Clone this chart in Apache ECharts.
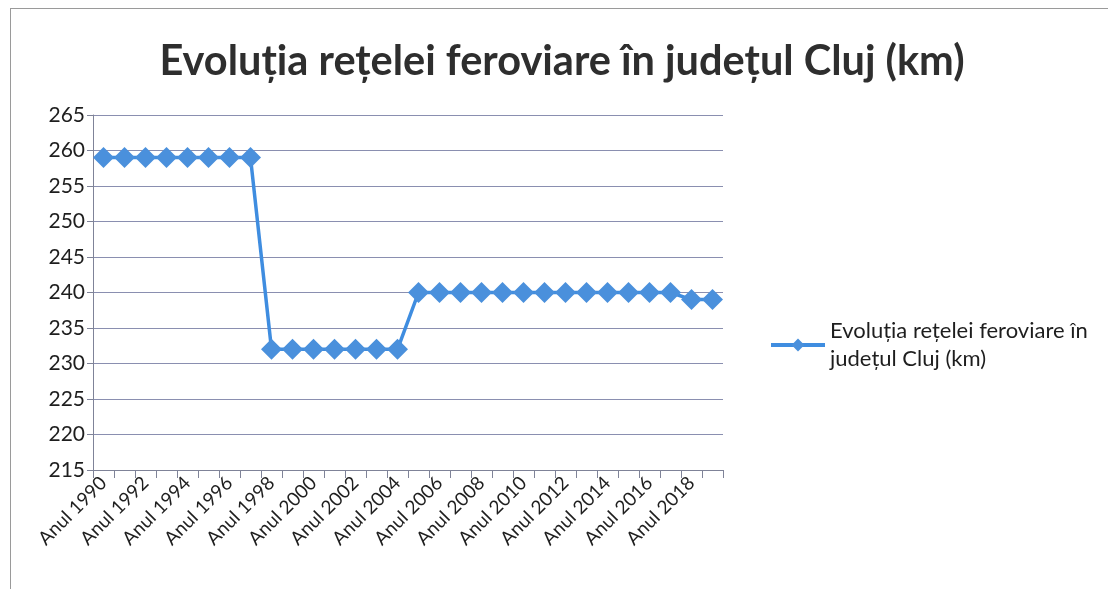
<!DOCTYPE html>
<html>
<head>
<meta charset="utf-8">
<script src="https://cdn.jsdelivr.net/npm/echarts@6/dist/echarts.min.js"></script>
<style>
html,body{margin:0;padding:0;background:#fff;}
#frame{position:absolute;left:10px;top:8px;width:1120px;height:600px;border:1px solid #9a9a9a;}
#chart{position:absolute;left:0;top:0;width:1108px;height:589px;}
</style>
</head>
<body>
<div id="frame"></div>
<div id="chart"></div>
<script>
const categories = ["Anul 1990","Anul 1991","Anul 1992","Anul 1993","Anul 1994","Anul 1995","Anul 1996","Anul 1997","Anul 1998","Anul 1999","Anul 2000","Anul 2001","Anul 2002","Anul 2003","Anul 2004","Anul 2005","Anul 2006","Anul 2007","Anul 2008","Anul 2009","Anul 2010","Anul 2011","Anul 2012","Anul 2013","Anul 2014","Anul 2015","Anul 2016","Anul 2017","Anul 2018","Anul 2019"];
const values = [259,259,259,259,259,259,259,259,232,232,232,232,232,232,232,240,240,240,240,240,240,240,240,240,240,240,240,240,239,239];
const seriesName = "Evoluția rețelei feroviare în județul Cluj (km)";
const titleText = "Evoluția rețelei feroviare în județul Cluj (km)";

const chart = echarts.init(document.getElementById('chart'), null, {renderer:'canvas'});
const font = "Lato, 'Open Sans', sans-serif";
chart.setOption({
  animation:false,
  title:{text:titleText,left:557,top:36,textAlign:'center',
    textStyle:{fontFamily:font,fontSize:41.5,fontWeight:'bold',color:'#2e2e2e'}},
  legend:{orient:'vertical',left:764,top:312,itemWidth:54,itemHeight:16,itemGap:0,
    lineStyle:{width:4},
    formatter:()=> "Evoluția rețelei feroviare în\njudețul Cluj (km)",
    textStyle:{fontFamily:font,fontSize:22,color:'#1e1e1e',lineHeight:28}},
  grid:{left:93,top:115,width:630,height:355,containLabel:false},
  xAxis:{type:'category',data:categories,boundaryGap:true,
    axisLine:{lineStyle:{color:'#7f8398',width:1}},
    axisTick:{show:true,length:8,lineStyle:{color:'#7f8398'},interval:0},
    axisLabel:{interval:1,rotate:45,fontFamily:font,fontSize:19,color:'#1e1e1e',margin:10}},
  yAxis:{type:'value',min:215,max:265,interval:5,
    axisLine:{show:true,lineStyle:{color:'#7f8398'}},
    axisTick:{show:true,length:6,lineStyle:{color:'#7f8398'}},
    splitLine:{lineStyle:{color:'#8a8fb0',width:1}},
    axisLabel:{fontFamily:font,fontSize:21,color:'#1e1e1e',margin:8}},
  series:[{type:'line',name:seriesName,data:values,
    symbol:'diamond',symbolSize:21,showAllSymbol:true,
    lineStyle:{color:'#3f8de0',width:3.5},
    itemStyle:{color:'#4a90dc'}}]
});
</script>
</body>
</html>
